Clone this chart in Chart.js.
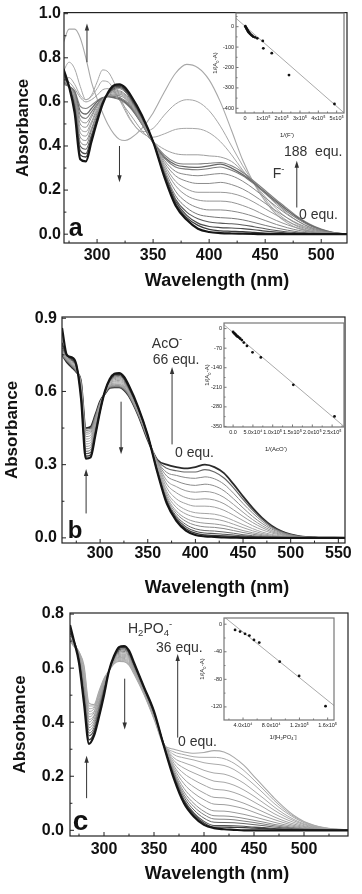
<!DOCTYPE html>
<html>
<head>
<meta charset="utf-8">
<script src="https://cdn.jsdelivr.net/npm/chart.js@4.4.1/dist/chart.umd.min.js"></script>
<style>
  body { margin: 0; background: #fff; }
  #wrap { position: relative; width: 362px; height: 894px; overflow: hidden; }
  canvas { position: absolute; }
</style>
</head>
<body>
<div id="wrap">
  <canvas id="mainA" width="362" height="296" style="left:0;top:0"></canvas>
  <canvas id="mainB" width="362" height="306" style="left:0;top:296px"></canvas>
  <canvas id="mainC" width="362" height="298" style="left:0;top:596px"></canvas>
  <canvas id="insA" width="150" height="145" style="left:205px;top:2px"></canvas>
  <canvas id="insB" width="165" height="145" style="left:190px;top:312px"></canvas>
  <canvas id="insC" width="160" height="140" style="left:190px;top:605px"></canvas>
</div>
<script>
// ---- panel a : F- titration (0 -> 188 equ.) ----
const wavA = [270,275,280,285,290,295,300,305,310,315,320,325,330,340,350,360,370,380,390,400,410,420,430,440,450,460,470,480,490,500,510,523];
const a00 = [.75,.67,.55,.34,.33,.42,.51,.59,.645,.675,.68,.665,.63,.54,.42,.26,.13,.065,.025,.01,.005,.003,.002,.001,0,0,0,0,0,0,0,0];
const a01 = [.74,.67,.56,.36,.35,.43,.52,.595,.64,.67,.675,.66,.625,.535,.42,.265,.14,.075,.04,.022,.015,.013,.011,.008,.005,.003,.002,.001,0,0,0,0];
const a02 = [.73,.67,.57,.38,.365,.44,.52,.60,.64,.665,.67,.655,.62,.53,.42,.27,.15,.085,.05,.035,.03,.028,.025,.02,.014,.009,.005,.003,.001,0,0,0];
const a03 = [.73,.67,.58,.40,.385,.45,.53,.60,.64,.66,.665,.65,.615,.53,.42,.28,.16,.10,.07,.055,.05,.047,.042,.034,.025,.017,.01,.006,.003,.001,0,0];
const a04 = [.72,.67,.59,.42,.405,.47,.54,.60,.64,.655,.66,.645,.61,.525,.42,.285,.175,.12,.09,.08,.075,.072,.065,.053,.04,.028,.018,.01,.005,.002,.001,0];
const a05 = [.72,.67,.60,.44,.425,.48,.55,.605,.635,.65,.65,.635,.605,.52,.42,.295,.195,.145,.12,.11,.11,.105,.095,.08,.062,.044,.029,.017,.009,.004,.002,0];
const a06 = [.71,.67,.61,.46,.445,.50,.56,.605,.635,.645,.645,.63,.60,.515,.42,.305,.22,.175,.155,.15,.15,.145,.13,.11,.085,.062,.042,.026,.014,.006,.002,0];
const a07 = [.71,.67,.62,.48,.465,.51,.57,.61,.635,.64,.64,.625,.595,.51,.415,.315,.24,.205,.19,.19,.19,.185,.17,.145,.115,.086,.058,.036,.02,.009,.003,0];
const a08 = [.70,.67,.63,.50,.485,.53,.58,.61,.63,.635,.635,.62,.59,.505,.415,.325,.265,.24,.23,.23,.235,.225,.205,.175,.14,.105,.073,.046,.026,.012,.004,0];
const a09 = [.70,.67,.635,.52,.505,.54,.585,.615,.63,.63,.628,.615,.585,.50,.415,.335,.285,.27,.265,.27,.275,.265,.24,.205,.165,.125,.088,.057,.032,.016,.006,0];
const a10 = [.69,.67,.64,.54,.525,.555,.59,.615,.627,.625,.62,.605,.58,.50,.415,.345,.305,.295,.292,.298,.305,.29,.265,.228,.185,.142,.10,.066,.038,.019,.007,0];
const a11 = [.69,.67,.645,.56,.545,.57,.60,.618,.625,.62,.615,.60,.575,.50,.415,.35,.315,.305,.303,.31,.318,.30,.27,.232,.19,.148,.108,.071,.041,.021,.008,0];
const a12 = [.68,.67,.65,.58,.57,.585,.605,.62,.622,.618,.61,.595,.57,.50,.42,.36,.325,.318,.318,.322,.325,.31,.28,.24,.198,.155,.115,.076,.045,.023,.009,0];
const a13 = [.70,.69,.66,.62,.60,.61,.63,.655,.66,.645,.61,.575,.54,.47,.42,.385,.365,.36,.36,.355,.35,.33,.285,.235,.185,.135,.092,.056,.03,.015,.006,0];
const a14 = [.70,.71,.68,.63,.61,.625,.66,.695,.69,.655,.61,.56,.515,.46,.44,.455,.475,.48,.478,.46,.42,.36,.29,.23,.17,.115,.072,.042,.021,.01,.004,0];
const a15 = [.74,.78,.75,.67,.61,.63,.69,.745,.735,.69,.63,.57,.52,.465,.48,.54,.59,.61,.60,.56,.49,.40,.31,.23,.16,.10,.06,.032,.015,.006,.002,0];
const a16 = [.87,.93,.93,.89,.80,.69,.615,.55,.495,.455,.43,.425,.435,.48,.55,.645,.73,.77,.755,.70,.60,.47,.335,.23,.15,.09,.05,.025,.011,.004,.001,0];

// ---- panel b : AcO- titration (0 -> 66 equ.) ----
const wavB = [260,265,270,275,280,285,290,295,300,305,310,315,320,325,330,340,350,360,370,380,390,400,410,420,430,440,450,460,470,480,490,500,510,525,557];
const b00 = [.86,.75,.74,.71,.57,.325,.33,.42,.52,.60,.65,.672,.675,.66,.625,.535,.42,.27,.14,.07,.03,.012,.006,.004,.002,.001,0,0,0,0,0,0,0,0,0];
const b01 = [.80,.75,.735,.71,.58,.335,.34,.425,.52,.60,.648,.668,.67,.655,.62,.533,.42,.272,.145,.075,.037,.019,.012,.01,.008,.006,.004,.002,.001,0,0,0,0,0,0];
const b02 = [.79,.75,.73,.705,.59,.345,.35,.43,.525,.60,.645,.663,.665,.65,.617,.53,.42,.275,.15,.082,.045,.027,.02,.018,.015,.012,.008,.005,.003,.002,.001,0,0,0,0];
const b03 = [.78,.745,.73,.705,.59,.355,.36,.44,.53,.60,.642,.658,.66,.645,.613,.528,.418,.278,.155,.09,.055,.037,.03,.028,.024,.019,.013,.009,.005,.003,.002,.001,0,0,0];
const b04 = [.78,.745,.725,.70,.60,.365,.37,.445,.535,.60,.64,.653,.655,.64,.61,.525,.418,.282,.163,.10,.068,.052,.045,.043,.038,.03,.022,.015,.009,.005,.003,.001,0,0,0];
const b05 = [.77,.74,.725,.70,.60,.375,.38,.45,.535,.598,.637,.648,.65,.636,.606,.523,.416,.285,.17,.11,.08,.066,.06,.057,.051,.041,.03,.021,.013,.007,.004,.002,.001,0,0];
const b06 = [.77,.74,.72,.70,.61,.385,.39,.46,.54,.597,.634,.643,.645,.632,.603,.52,.415,.29,.18,.125,.098,.085,.08,.077,.069,.056,.042,.029,.018,.01,.005,.003,.001,0,0];
const b07 = [.77,.74,.72,.695,.61,.395,.40,.465,.54,.596,.631,.639,.64,.628,.60,.518,.414,.295,.19,.14,.115,.103,.10,.097,.087,.071,.054,.038,.024,.014,.008,.004,.002,0,0];
const b08 = [.76,.735,.715,.695,.62,.405,.41,.47,.545,.595,.628,.634,.635,.623,.596,.515,.413,.30,.205,.16,.14,.13,.13,.126,.113,.093,.071,.05,.033,.02,.011,.005,.002,.001,0];
const b09 = [.76,.735,.715,.69,.62,.415,.42,.48,.55,.594,.625,.63,.63,.619,.593,.513,.412,.305,.22,.185,.165,.158,.16,.155,.14,.115,.088,.063,.042,.025,.014,.007,.003,.001,0];
const b10 = [.76,.73,.71,.69,.63,.425,.43,.485,.55,.593,.622,.627,.627,.616,.59,.51,.41,.31,.235,.21,.193,.187,.19,.184,.166,.137,.105,.075,.05,.03,.017,.008,.004,.001,0];
const b11 = [.75,.73,.71,.685,.63,.433,.437,.49,.553,.592,.62,.624,.624,.613,.588,.508,.408,.313,.253,.233,.22,.215,.22,.213,.193,.16,.123,.088,.059,.036,.02,.01,.004,.001,0];
const b12 = [.75,.725,.705,.685,.635,.44,.443,.495,.555,.591,.618,.621,.621,.61,.586,.506,.406,.315,.268,.256,.247,.244,.25,.242,.22,.183,.141,.102,.068,.041,.023,.012,.005,.002,0];
const b13 = [.75,.725,.705,.68,.64,.446,.449,.50,.557,.59,.616,.619,.619,.608,.584,.504,.404,.318,.285,.275,.27,.27,.28,.27,.245,.205,.158,.114,.076,.046,.026,.013,.006,.002,0];
const b14 = [.75,.72,.70,.68,.64,.45,.455,.505,.56,.59,.614,.617,.617,.606,.582,.502,.40,.32,.30,.29,.285,.29,.30,.29,.265,.22,.17,.123,.082,.05,.028,.014,.006,.002,0];

// ---- panel c : H2PO4- titration (0 -> 36 equ.) ----
const wavC = [266,270,275,280,285,290,295,300,305,310,315,320,325,330,340,350,360,370,380,390,400,410,420,430,440,450,460,470,480,490,500,510,520,530,544];
const c00 = [.76,.70,.62,.47,.32,.35,.42,.50,.59,.645,.678,.682,.665,.62,.53,.44,.31,.19,.10,.05,.02,.008,.004,.002,0,0,0,0,0,0,0,0,0,0,0];
const c01 = [.74,.70,.625,.48,.335,.36,.43,.51,.59,.643,.673,.677,.66,.617,.528,.438,.312,.195,.107,.058,.027,.012,.012,.011,.01,.008,.007,.005,.003,.002,.001,.001,0,0,0];
const c02 = [.73,.70,.63,.49,.35,.37,.44,.515,.59,.64,.668,.672,.656,.614,.526,.436,.313,.20,.113,.064,.033,.018,.018,.017,.015,.012,.01,.007,.005,.003,.002,.001,.001,0,0];
const c03 = [.73,.70,.635,.50,.36,.38,.45,.52,.59,.638,.663,.667,.652,.611,.524,.434,.314,.205,.123,.075,.045,.03,.029,.028,.025,.021,.017,.012,.009,.006,.003,.002,.001,.001,0];
const c04 = [.72,.70,.64,.51,.37,.39,.455,.525,.59,.636,.659,.662,.648,.608,.522,.432,.315,.21,.132,.087,.058,.042,.041,.039,.034,.029,.023,.017,.012,.008,.005,.003,.001,.001,0];
const c05 = [.72,.70,.64,.52,.38,.40,.46,.53,.59,.634,.655,.657,.644,.605,.52,.43,.316,.215,.142,.099,.07,.054,.053,.05,.044,.037,.03,.022,.016,.01,.006,.004,.002,.001,0];
const c06 = [.72,.695,.645,.53,.39,.41,.47,.535,.59,.632,.651,.652,.64,.602,.518,.428,.317,.222,.155,.115,.088,.072,.071,.066,.059,.05,.04,.03,.021,.014,.008,.005,.003,.001,0];
const c07 = [.71,.695,.645,.54,.40,.42,.475,.54,.59,.63,.647,.648,.636,.599,.516,.426,.318,.23,.172,.137,.113,.097,.095,.089,.08,.067,.053,.04,.028,.018,.011,.006,.003,.002,.001];
const c08 = [.71,.69,.65,.55,.41,.425,.48,.545,.59,.628,.643,.644,.632,.596,.514,.424,.319,.238,.19,.16,.138,.122,.12,.112,.10,.084,.067,.05,.035,.023,.014,.008,.004,.002,.001];
const c09 = [.71,.69,.65,.56,.42,.435,.49,.55,.59,.626,.64,.64,.628,.593,.512,.422,.32,.248,.21,.186,.167,.152,.149,.14,.125,.105,.084,.062,.044,.029,.017,.01,.005,.003,.001];
const c10 = [.70,.69,.655,.57,.43,.44,.495,.553,.59,.624,.637,.636,.624,.59,.51,.42,.32,.258,.23,.212,.196,.182,.178,.167,.149,.126,.10,.075,.053,.035,.021,.012,.006,.003,.001];
const c11 = [.70,.685,.655,.58,.44,.45,.50,.556,.59,.622,.634,.633,.62,.587,.508,.418,.32,.268,.25,.237,.222,.212,.208,.195,.174,.146,.117,.087,.061,.04,.024,.014,.007,.004,.001];
const c12 = [.70,.685,.66,.59,.45,.455,.505,.558,.59,.62,.631,.63,.617,.584,.506,.416,.318,.28,.268,.26,.25,.245,.24,.225,.20,.169,.135,.10,.071,.047,.028,.016,.009,.004,.001];
const c13 = [.70,.68,.66,.60,.46,.46,.51,.56,.59,.618,.628,.627,.614,.581,.504,.414,.316,.29,.28,.272,.27,.27,.265,.248,.221,.186,.149,.111,.078,.051,.031,.018,.009,.005,.002];
const c14 = [.70,.68,.66,.61,.47,.465,.515,.562,.59,.616,.625,.624,.611,.578,.502,.412,.315,.30,.29,.285,.288,.295,.29,.27,.24,.20,.16,.12,.085,.055,.033,.019,.01,.005,.002];

// ---- insets : 1/(A0-A) vs 1/[anion] ----
const insAx = [0.02,0.05,0.08,0.11,0.14,0.17,0.2,0.24,0.28,0.33,0.39,0.45,0.55,0.67,0.97,1.0,1.46,2.4,4.88]; // x10^5
const insAy = [2,-3,-8,-13,-18,-22,-27,-31,-35,-40,-44,-49,-52,-57,-70,-106,-130,-237,-379];
const fitAx = [-0.49, 5.4];
const fitAy = [41, -422];

const insBx = [0.0,0.02,0.04,0.06,0.08,0.1,0.12,0.15,0.18,0.22,0.27,0.35,0.49,0.7,1.52,2.56]; // x10^5
const insBy = [-12,-16,-18,-21,-24,-27,-29,-32,-36,-41,-50,-62,-85,-103,-201,-314];
const fitBx = [-0.23, 2.8];
const fitBy = [13.6, -350];

const insCx = [2.87,3.58,4.28,4.9,5.55,6.3,9.2,11.95,15.7]; // x10^4
const insCy = [-8.3,-10.7,-14,-16.5,-22.8,-26.7,-54.4,-75,-119];
const fitCx = [1.3, 16.9];
const fitCy = [10.8, -118];

const FONT = '"Liberation Sans", Arial, sans-serif';
Chart.defaults.font.family = FONT;
Chart.defaults.animation = false;

// draw text made of pieces: [text, 0 normal | 1 sup | 2 sub]
function drawRich(ctx, parts, x, y, size, weight, align, color) {
  const f = s => weight + ' ' + s + 'px ' + FONT;
  let w = 0;
  parts.forEach(p => { ctx.font = f(p[1] ? size * 0.68 : size); w += ctx.measureText(p[0]).width; });
  let cx = align === 'center' ? x - w / 2 : x;
  ctx.fillStyle = color;
  ctx.textAlign = 'left';
  ctx.textBaseline = 'alphabetic';
  parts.forEach(p => {
    ctx.font = f(p[1] ? size * 0.68 : size);
    const dy = p[1] === 1 ? -size * 0.42 : (p[1] === 2 ? size * 0.24 : 0);
    ctx.fillText(p[0], cx, y + dy);
    cx += ctx.measureText(p[0]).width;
  });
}

const deco = {
  id: 'deco',
  afterDatasetsDraw(chart, args, o) {
    const ctx = chart.ctx, ca = chart.chartArea;
    const xs = chart.scales.x, ys = chart.scales.y;
    ctx.save();
    ctx.strokeStyle = o.frame;
    ctx.lineWidth = o.frameW;
    ctx.strokeRect(ca.left, ca.top, ca.right - ca.left, ca.bottom - ca.top);
    // inward tick marks
    ctx.lineWidth = 1;
    ctx.beginPath();
    xs.ticks.forEach(t => {
      const p = xs.getPixelForValue(t.value);
      const len = t.label !== '' ? o.tick : o.tick * 0.6;
      ctx.moveTo(p, ca.bottom); ctx.lineTo(p, ca.bottom - len);
    });
    ys.ticks.forEach(t => {
      const p = ys.getPixelForValue(t.value);
      const len = t.label !== '' ? o.tick : o.tick * 0.6;
      ctx.moveTo(ca.left, p); ctx.lineTo(ca.left + len, p);
    });
    ctx.stroke();
    // arrows
    (o.arrows || []).forEach(a => {
      const px = xs.getPixelForValue(a.x);
      const y0 = ys.getPixelForValue(a.from), y1 = ys.getPixelForValue(a.to);
      const dir = y1 < y0 ? 1 : -1;
      ctx.strokeStyle = '#333';
      ctx.fillStyle = '#333';
      ctx.lineWidth = 1;
      ctx.beginPath();
      ctx.moveTo(px, y0); ctx.lineTo(px, y1 + dir * 5);
      ctx.stroke();
      ctx.beginPath();
      ctx.moveTo(px, y1); ctx.lineTo(px - 2.2, y1 + dir * 7); ctx.lineTo(px + 2.2, y1 + dir * 7);
      ctx.closePath(); ctx.fill();
    });
    // labels in data space
    (o.texts || []).forEach(t => {
      drawRich(ctx, t.parts, xs.getPixelForValue(t.x), ys.getPixelForValue(t.y), t.size, t.weight || 'normal', t.align || 'center', t.color || '#333');
    });
    // axis titles
    if (o.xTitle) {
      const t = o.xTitle;
      drawRich(ctx, t.parts, t.x, ca.bottom + t.dy, t.size, t.weight, 'center', t.color);
    }
    if (o.yTitle) {
      const t = o.yTitle;
      ctx.save();
      ctx.translate(t.x, (ca.top + ca.bottom) / 2);
      ctx.rotate(-Math.PI / 2);
      drawRich(ctx, t.parts, 0, t.size * 0.36, t.size, t.weight, 'center', t.color);
      ctx.restore();
    }
    ctx.restore();
  }
};

function spectra(wav, specs, styles) {
  return specs.map((s, i) => ({
    data: s.map((v, k) => ({ x: wav[k], y: v })),
    showLine: true,
    borderColor: styles[i][0],
    borderWidth: styles[i][1],
    pointRadius: 0,
    cubicInterpolationMode: 'monotone'
  }));
}

function mainChart(id, cfg) {
  const tickFont = { size: 16, weight: 'bold', family: FONT };
  new Chart(document.getElementById(id), {
    type: 'scatter',
    data: { datasets: spectra(cfg.wav, cfg.specs, cfg.styles) },
    options: {
      responsive: false,
      events: [],
      layout: { padding: cfg.pad },
      scales: {
        x: {
          min: cfg.xmin, max: cfg.xmax,
          grid: { display: false, drawTicks: false },
          border: { display: false },
          ticks: {
            stepSize: 25, includeBounds: false, autoSkip: false, maxRotation: 0,
            padding: cfg.xpad, color: '#111', font: tickFont,
            callback: v => (v % 50 === 0 ? String(v) : '')
          },
          afterFit: s => { s.height = cfg.xh; }
        },
        y: {
          min: cfg.ymin, max: cfg.ymax,
          grid: { display: false, drawTicks: false },
          border: { display: false },
          ticks: {
            stepSize: cfg.ystep, includeBounds: false, autoSkip: false,
            padding: cfg.ypad, color: '#111', font: tickFont,
            callback: v => (Math.round(v * 100) % cfg.ylab === 0 ? v.toFixed(1) : '')
          },
          afterFit: s => { s.width = cfg.yw; }
        }
      },
      plugins: {
        legend: { display: false },
        tooltip: { enabled: false },
        deco: {
          frame: '#222', frameW: 1.2, tick: 4,
          arrows: cfg.arrows, texts: cfg.texts,
          xTitle: { parts: [['Wavelength (nm)', 0]], x: 217, dy: cfg.titleDy, size: 18, weight: 'bold', color: '#111' },
          yTitle: { parts: [['Absorbance', 0]], x: cfg.yTitleX, size: 17, weight: 'bold', color: '#111' }
        }
      }
    },
    plugins: [deco]
  });
}

function insetChart(id, cfg) {
  const f = { size: 5.5, family: FONT };
  new Chart(document.getElementById(id), {
    type: 'scatter',
    data: {
      datasets: [
        { data: cfg.px.map((v, i) => ({ x: v, y: cfg.py[i] })), pointRadius: 1.4, pointBackgroundColor: '#111', pointBorderWidth: 0 },
        { data: cfg.fx.map((v, i) => ({ x: v, y: cfg.fy[i] })), showLine: true, pointRadius: 0, borderColor: '#aaa', borderWidth: 1 }
      ]
    },
    options: {
      responsive: false,
      events: [],
      layout: { padding: cfg.pad },
      scales: {
        x: {
          min: cfg.xmin, max: cfg.xmax,
          grid: { display: false, drawTicks: false }, border: { display: false },
          ticks: { stepSize: cfg.xstep, includeBounds: false, autoSkip: false, maxRotation: 0, padding: 2, color: '#222', font: f, callback: cfg.xlab },
          afterFit: s => { s.height = cfg.xh; }
        },
        y: {
          min: cfg.ymin, max: cfg.ymax,
          grid: { display: false, drawTicks: false }, border: { display: false },
          ticks: { stepSize: cfg.ystep, includeBounds: false, autoSkip: false, padding: 2, color: '#222', font: f, callback: cfg.ylab },
          afterFit: s => { s.width = cfg.yw; }
        }
      },
      plugins: {
        legend: { display: false },
        tooltip: { enabled: false },
        deco: {
          frame: '#777', frameW: 1.2, tick: 2.5,
          xTitle: { parts: cfg.xTitle, x: cfg.xTitleX, dy: cfg.xTitleDy, size: 6, weight: 'normal', color: '#222' },
          yTitle: { parts: [['1/(A', 0], ['0', 2], ['-A)', 0]], x: cfg.yTitleX, size: 6, weight: 'normal', color: '#222' }
        }
      }
    },
    plugins: [deco]
  });
}

const dark = ['#151515', 2.2];
mainChart('mainA', {
  wav: wavA,
  specs: [a00, a01, a02, a03, a04, a05, a06, a07, a08, a09, a10, a11, a12, a13, a14, a15, a16],
  styles: [dark, ['#3a3a3a', 1.3], ['#4a4a4a', 1.2], ['#5a5a5a', 1.1], ['#777', 1], ['#888', 1], ['#949494', 1], ['#999', 1],
           ['#8c8c8c', 1], ['#888', 1], ['#7a7a7a', 1.1], ['#666', 1.3], ['#808080', 1.1], ['#9e9e9e', 1], ['#a6a6a6', 1], ['#a6a6a6', 1], ['#a8a8a8', 1.1]],
  xmin: 270.5, xmax: 523, ymin: -0.04, ymax: 1.005, ystep: 0.1, ylab: 20,
  pad: { left: 0, right: 15, top: 12, bottom: 0 }, yw: 64, xh: 53, xpad: 3, ypad: 3,
  titleDy: 43, yTitleX: 22,
  arrows: [{ x: 291, from: 0.78, to: 0.955 }, { x: 320, from: 0.40, to: 0.235 }, { x: 478.2, from: 0.121, to: 0.333 }],
  texts: [
    { x: 281, y: -0.008, parts: [['a', 0]], size: 25, weight: 'bold', color: '#111' },
    { x: 492.8, y: 0.356, parts: [['188  equ.', 0]], size: 14 },
    { x: 462, y: 0.257, parts: [['F', 0], ['-', 1]], size: 14 },
    { x: 497.5, y: 0.068, parts: [['0 equ.', 0]], size: 14 }
  ]
});

mainChart('mainB', {
  wav: wavB,
  specs: [b00, b01, b02, b03, b04, b05, b06, b07, b08, b09, b10, b11, b12, b13, b14],
  styles: [dark, ['#3a3a3a', 1.3], ['#555', 1.1], ['#666', 1], ['#888', 1], ['#999', 1], ['#a0a0a0', 1], ['#a4a4a4', 1],
           ['#a0a0a0', 1], ['#999', 1], ['#999', 1], ['#8a8a8a', 1], ['#888', 1], ['#666', 1.2], ['#2a2a2a', 1.8]],
  xmin: 260, xmax: 557, ymin: -0.021, ymax: 0.905, ystep: 0.15, ylab: 30,
  pad: { left: 0, right: 17, top: 21, bottom: 0 }, yw: 62, xh: 59, xpad: 1, ypad: 5,
  titleDy: 50, yTitleX: 11,
  arrows: [{ x: 285.3, from: 0.10, to: 0.282 }, { x: 322, from: 0.558, to: 0.343 }, { x: 375.5, from: 0.383, to: 0.70 }],
  texts: [
    { x: 273.7, y: 0.0, parts: [['b', 0]], size: 24, weight: 'bold', color: '#111' },
    { x: 370.2, y: 0.78, parts: [['AcO', 0], ['-', 1]], size: 14 },
    { x: 379.8, y: 0.712, parts: [['66 equ.', 0]], size: 14 },
    { x: 399, y: 0.33, parts: [['0 equ.', 0]], size: 14 }
  ]
});

mainChart('mainC', {
  wav: wavC,
  specs: [c00, c01, c02, c03, c04, c05, c06, c07, c08, c09, c10, c11, c12, c13, c14],
  styles: [dark, ['#3a3a3a', 1.3], ['#505050', 1.1], ['#666', 1], ['#808080', 1], ['#8c8c8c', 1], ['#999', 1], ['#9e9e9e', 1],
           ['#a0a0a0', 1], ['#a4a4a4', 1], ['#a6a6a6', 1], ['#a8a8a8', 1], ['#aaa', 1], ['#aaa', 1], ['#a8a8a8', 1.1]],
  xmin: 266, xmax: 544, ymin: -0.021, ymax: 0.804, ystep: 0.1, ylab: 20,
  pad: { left: 0, right: 14, top: 17, bottom: 0 }, yw: 70, xh: 58, xpad: 4, ypad: 6,
  titleDy: 42.5, yTitleX: 19,
  arrows: [{ x: 282.6, from: 0.119, to: 0.276 }, { x: 320.7, from: 0.561, to: 0.373 }, { x: 373.7, from: 0.343, to: 0.652 }],
  texts: [
    { x: 276.6, y: 0.0, parts: [['c', 0]], size: 28, weight: 'bold', color: '#111' },
    { x: 324, y: 0.731, parts: [['H', 0], ['2', 2], ['PO', 0], ['4', 2], ['-', 1]], size: 14, align: 'left' },
    { x: 375.3, y: 0.658, parts: [['36 equ.', 0]], size: 14 },
    { x: 393.5, y: 0.313, parts: [['0 equ.', 0]], size: 14 }
  ]
});

insetChart('insA', {
  px: insAx, py: insAy, fx: fitAx, fy: fitAy,
  xmin: -0.49, xmax: 5.4, xstep: 0.5, ymin: -423, ymax: 67, ystep: 50,
  xlab: v => (v === 0 ? '0' : (Number.isInteger(v) ? v + 'x10\u2075' : '')),
  ylab: v => (v % 100 === 0 ? String(v) : ''),
  pad: { left: 0, right: 11, top: 11, bottom: 0 }, yw: 31, xh: 34,
  xTitle: [['1/(F', 0], ['-', 1], [')', 0]], xTitleX: 82, xTitleDy: 24, yTitleX: 10
});

insetChart('insB', {
  px: insBx, py: insBy, fx: fitBx, fy: fitBy,
  xmin: -0.23, xmax: 2.8, xstep: 0.25, ymin: -352, ymax: 20, ystep: 35,
  xlab: v => {
    if (Math.round(v * 100) % 50 !== 0) return '';
    if (v === 0) return '0.0';
    return v < 1 ? (v * 10).toFixed(1) + 'x10\u2074' : v.toFixed(1) + 'x10\u2075';
  },
  ylab: v => (v % 70 === 0 ? String(v) : ''),
  pad: { left: 0, right: 11, top: 11, bottom: 0 }, yw: 34, xh: 30,
  xTitle: [['1/(AcO', 0], ['-', 1], [')', 0]], xTitleX: 86, xTitleDy: 24, yTitleX: 17
});

insetChart('insC', {
  px: insCx, py: insCy, fx: fitCx, fy: fitCy,
  xmin: 1.3, xmax: 16.9, xstep: 2, ymin: -139, ymax: 9, ystep: 20,
  xlab: v => {
    if (v % 4 !== 0) return '';
    return v < 10 ? v.toFixed(1) + 'x10\u2074' : (v / 10).toFixed(1) + 'x10\u2075';
  },
  ylab: v => (v % 40 === 0 ? String(v) : ''),
  pad: { left: 0, right: 16, top: 13, bottom: 0 }, yw: 34, xh: 25,
  xTitle: [['1/[H', 0], ['2', 2], ['PO', 0], ['4', 2], ['-', 1], [']', 0]], xTitleX: 93, xTitleDy: 19, yTitleX: 12
});
</script>
</body>
</html>
